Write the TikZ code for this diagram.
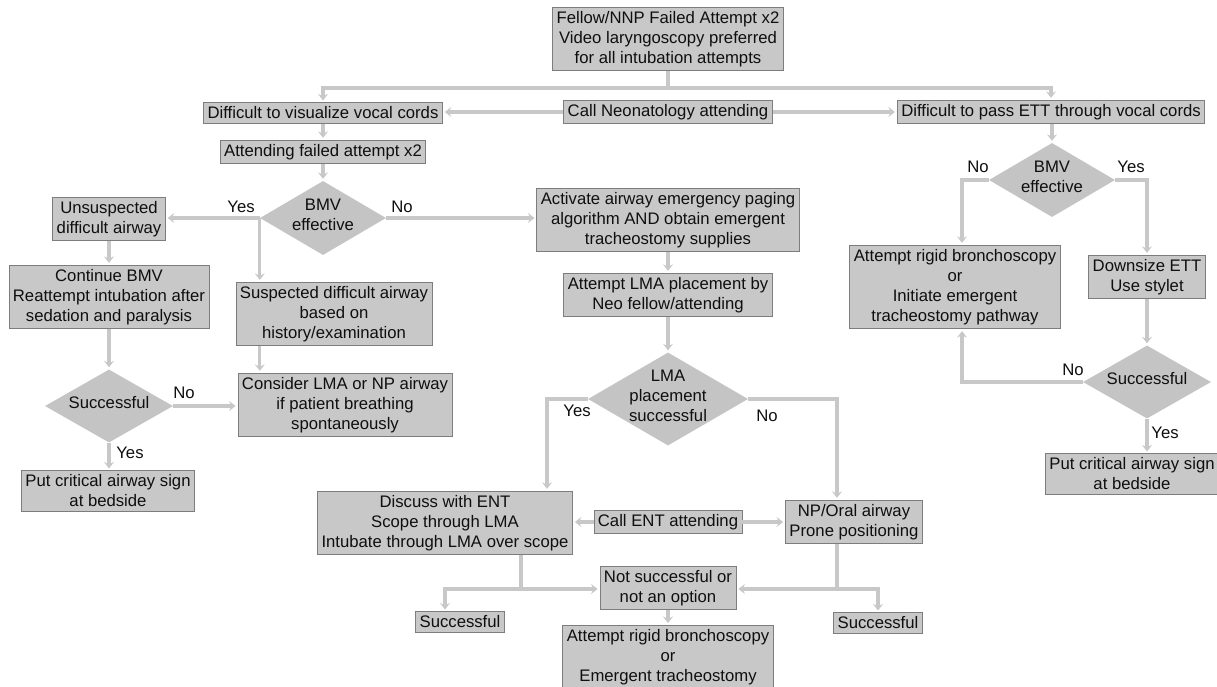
\documentclass[tikz,border=0pt]{standalone}
\usepackage{fontspec}
\setmainfont{Liberation Sans}
\usetikzlibrary{shapes.geometric,arrows.meta}
\definecolor{boxfill}{RGB}{200,200,200}
\definecolor{diafill}{RGB}{196,196,196}
\definecolor{boxline}{RGB}{125,125,125}
\definecolor{linec}{RGB}{200,200,200}
\definecolor{txt}{RGB}{15,15,15}
\newcommand{\dtext}[1]{\smash{\makebox[0pt]{\raisebox{-3pt}{\begin{tabular}{@{}c@{}}#1\end{tabular}}}}}
\begin{document}
\begin{tikzpicture}[x=1pt,y=-1pt,
  every node/.style={font=\fontsize{16.7}{20}\selectfont, text=txt},
  box/.style={draw=boxline, line width=0.8pt, fill=boxfill, inner xsep=4pt, inner ysep=4pt, align=center},
  dia/.style={shape=diamond, fill=diafill, inner sep=0pt},
  conn/.style={draw=linec, line width=3.2pt},
  arr/.style={conn, shorten >=2pt, -{Stealth[length=6.5pt,width=10pt,inset=2.5pt]}},
  lbl/.style={inner sep=0pt}]
\useasboundingbox (0,0) rectangle (1217,686);
\fill[white] (0,0) rectangle (1217,686);

% nodes
\node[box] (top) at (668,39) {Fellow/NNP Failed Attempt x2\\Video laryngoscopy preferred\\for all intubation attempts};
\node[box] (vis) at (323,113) {Difficult to visualize vocal cords};
\node[box] (call) at (668,112) {Call Neonatology attending};
\node[box] (pass) at (1051,112) {Difficult to pass ETT through vocal cords};
\node[box] (att) at (323,152) {Attending failed attempt x2};
\node[dia, minimum width=126pt, minimum height=74pt] (bmv1) at (323,218) {\dtext{BMV\\effective}};
\node[box] (unsus) at (109,219) {Unsuspected\\difficult airway};
\node[box] (cont) at (109,297) {Continue BMV\\Reattempt intubation after\\sedation and paralysis};
\node[dia, minimum width=128pt, minimum height=73pt] (succL) at (109,406) {\dtext{Successful}};
\node[box] (putL) at (108,491) {Put critical airway sign\\at bedside};
\node[box] (sus) at (334,314) {Suspected difficult airway\\based on\\history/examination};
\node[box] (cons) at (345,405) {Consider LMA or NP airway\\if patient breathing\\spontaneously};
\node[box] (act) at (668,220) {Activate airway emergency paging\\algorithm AND obtain emergent\\tracheostomy supplies};
\node[box] (lma) at (668,295) {Attempt LMA placement by\\Neo fellow/attending};
\node[dia, minimum width=160pt, minimum height=93pt] (lmad) at (668,399) {\dtext{LMA\\placement\\successful}};
\node[box] (disc) at (445,523) {Discuss with ENT\\Scope through LMA\\Intubate through LMA over scope};
\node[box] (ent) at (668,522) {Call ENT attending};
\node[box] (np) at (854,522) {NP/Oral airway\\Prone positioning};
\node[box] (nots) at (668,588) {Not successful or\\not an option};
\node[box] (sL) at (460,622) {Successful};
\node[box] (sR) at (878,623) {Successful};
\node[box, anchor=north] (rig2) at (668,625) {Attempt rigid bronchoscopy\\or\\Emergent tracheostomy};
\node[dia, minimum width=126pt, minimum height=74pt] (bmv2) at (1052,180) {\dtext{BMV\\effective}};
\node[box] (rig1) at (955,287) {Attempt rigid bronchoscopy\\or\\Initiate emergent\\tracheostomy pathway};
\node[box] (down) at (1147,277) {Downsize ETT\\Use stylet};
\node[dia, minimum width=128pt, minimum height=73pt] (succR) at (1147,382) {\dtext{Successful}};
\node[box] (putR) at (1132,474) {Put critical airway sign\\at bedside};

% labels
\node[lbl] (l1) at (241,207) {Yes};
\node[lbl] (l2) at (402,207) {No};
\node[lbl] (l3) at (184,393) {No};
\node[lbl] (l4) at (130,453) {Yes};
\node[lbl] (l5) at (577,411) {Yes};
\node[lbl] (l6) at (767,416) {No};
\node[lbl] (l7) at (978,167) {No};
\node[lbl] (l8) at (1131,167) {Yes};
\node[lbl] (l9) at (1073,370) {No};
\node[lbl] (l10) at (1165,433) {Yes};

% coordinates
\coordinate (jT) at (668,88);
\coordinate (jL) at (323,88);
\coordinate (jR) at (1051,88);
\coordinate (yx) at (547,0);
\coordinate (nx) at (837,0);
\coordinate (jDL) at (521,589);
\coordinate (jDR) at (837,589);
\coordinate (sLx) at (445,0);
\coordinate (rx) at (962,0);

% connectors
\draw[conn] (top.south) -- (jT);
\draw[conn, line cap=rect] (jL) -- (jR);
\draw[arr] (jL) -- (vis.north);
\draw[arr] (jR) -- (pass.north);
\draw[arr] (call.west) -- (call.west -| vis.east);
\draw[arr] (call.east) -- (call.east -| pass.west);
\draw[arr] (vis.south) -- (att.north);
\draw[arr] (att.south) -- (bmv1.north);
\draw[arr] (bmv1.west) -- (bmv1.west -| unsus.east);
\draw[arr] (bmv1.west) -- (bmv1.west |- sus.north);
\draw[arr] (bmv1.east) -- (bmv1.east -| act.west);
\draw[arr] (unsus.south) -- (cont.north);
\draw[arr] (cont.south) -- (succL.north);
\draw[arr] (succL.east) -- (succL.east -| cons.west);
\draw[arr] (succL.south) -- (succL.south |- putL.north);
\draw[arr] (bmv1.west |- sus.south) -- (bmv1.west |- cons.north);
\draw[arr] (act.south) -- (lma.north);
\draw[arr] (lma.south) -- (lmad.north);
\draw[arr] (lmad.west) -| (yx |- disc.north);
\draw[arr] (lmad.east) -| (nx |- np.north);
\draw[arr] (ent.west) -- (ent.west -| disc.east);
\draw[arr] (ent.east) -- (ent.east -| np.west);
\draw[conn] (jDL |- disc.south) -- (jDL);
\draw[arr] (jDL) -- (jDL -| nots.west);
\draw[arr] (jDL) -| (sLx |- sL.north);
\draw[conn] (jDR |- np.south) -- (jDR);
\draw[arr] (jDR) -- (jDR -| nots.east);
\draw[arr] (jDR) -| (sR.north);
\draw[arr] (nots.south) -- (rig2.north);
\draw[arr] (bmv2.north |- pass.south) -- (bmv2.north);
\draw[arr] (bmv2.west) -| (rx |- rig1.north);
\draw[arr] (bmv2.east) -| (down.north);
\draw[arr] (down.south) -- (succR.north);
\draw[arr] (succR.west) -| (rx |- rig1.south);
\draw[arr] (succR.south) -- (succR.south |- putR.north);
\end{tikzpicture}
\end{document}
